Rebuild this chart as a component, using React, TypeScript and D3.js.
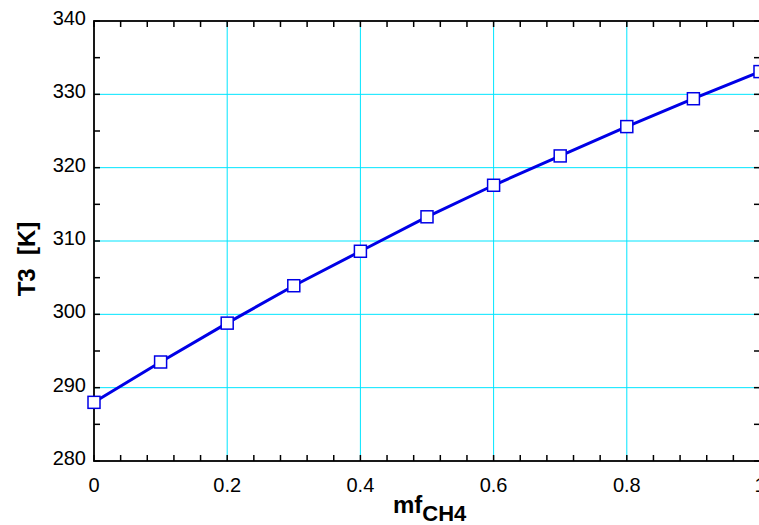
import React from "react";
import * as d3 from "d3";

const xValues = [0, 0.1, 0.2, 0.3, 0.4, 0.5, 0.6, 0.7, 0.8, 0.9, 1.0];
const t3Values = [288.0, 293.5, 298.8, 303.9, 308.6, 313.3, 317.6, 321.6, 325.6, 329.4, 333.1];
const xTicks = [0, 0.2, 0.4, 0.6, 0.8, 1];
const xTickLabels = ["0", "0.2", "0.4", "0.6", "0.8", "1"];
const yTicks = [280, 290, 300, 310, 320, 330, 340];

export default function App() {
  const W = 759, H = 525;
  const left = 94, right = 760, top = 21, bottom = 461;
  const x = d3.scaleLinear().domain([0, 1]).range([left, right]);
  const y = d3.scaleLinear().domain([280, 340]).range([bottom, top]);
  const data = xValues.map((v, i) => [v, t3Values[i]] as [number, number]);
  const line = d3.line<[number, number]>().x(d => x(d[0])).y(d => y(d[1]));
  const xMinor = d3.range(0, 1.0001, 0.04);
  const yMinor = d3.range(280, 340.001, 5);
  const font = "Liberation Sans, Arial, sans-serif";
  const tl = 6;
  return (
    <svg width={W} height={H} style={{ position: "absolute", left: 0, top: 0, background: "#fff" }} fontFamily={font}>
      <rect x={0} y={0} width={W} height={H} fill="#fff" />
      {xTicks.filter(t => t > 0 && t < 1).map(t => (
        <line key={"gx" + t} x1={x(t)} x2={x(t)} y1={top} y2={bottom} stroke="#00e5ff" strokeWidth={1} />
      ))}
      {yTicks.filter(t => t > 280 && t < 340).map(t => (
        <line key={"gy" + t} x1={left} x2={right} y1={y(t)} y2={y(t)} stroke="#00e5ff" strokeWidth={1} />
      ))}
      {xMinor.map((t, i) => (
        <g key={"xm" + i}>
          <line x1={x(t)} x2={x(t)} y1={bottom} y2={bottom - tl} stroke="#000" strokeWidth={1.5} />
          <line x1={x(t)} x2={x(t)} y1={top} y2={top + tl} stroke="#000" strokeWidth={1.5} />
        </g>
      ))}
      {yMinor.map((t, i) => (
        <g key={"ym" + i}>
          <line x1={left} x2={left + tl} y1={y(t)} y2={y(t)} stroke="#000" strokeWidth={1.5} />
          <line x1={right} x2={right - tl} y1={y(t)} y2={y(t)} stroke="#000" strokeWidth={1.5} />
        </g>
      ))}
      <rect x={left} y={top} width={right - left} height={bottom - top} fill="none" stroke="#000" strokeWidth={1.8} />
      <path d={line(data) || ""} fill="none" stroke="#0000e6" strokeWidth={3} />
      {data.map((d, i) => (
        <rect key={"m" + i} x={x(d[0]) - 6} y={y(d[1]) - 6} width={12} height={12} fill="#fff" stroke="#0000e6" strokeWidth={1.5} />
      ))}
      {yTicks.map(t => (
        <text key={"yl" + t} x={86} y={y(t) + 4} textAnchor="end" fontSize={20} fill="#000">{t}</text>
      ))}
      {xTicks.map((t, i) => (
        <text key={"xl" + t} x={x(t)} y={bottom + 31} textAnchor="middle" fontSize={20} fill="#000">{xTickLabels[i]}</text>
      ))}
      <text transform={`translate(35,259) rotate(-90)`} textAnchor="middle" fontSize={24} fontWeight="bold" fill="#000" style={{ whiteSpace: "pre" }}>{"T3  [K]"}</text>
      <text x={393} y={513} fontSize={24} fontWeight="bold" fill="#000">
        mf<tspan dy={8} fontSize={22}>CH4</tspan>
      </text>
    </svg>
  );
}
